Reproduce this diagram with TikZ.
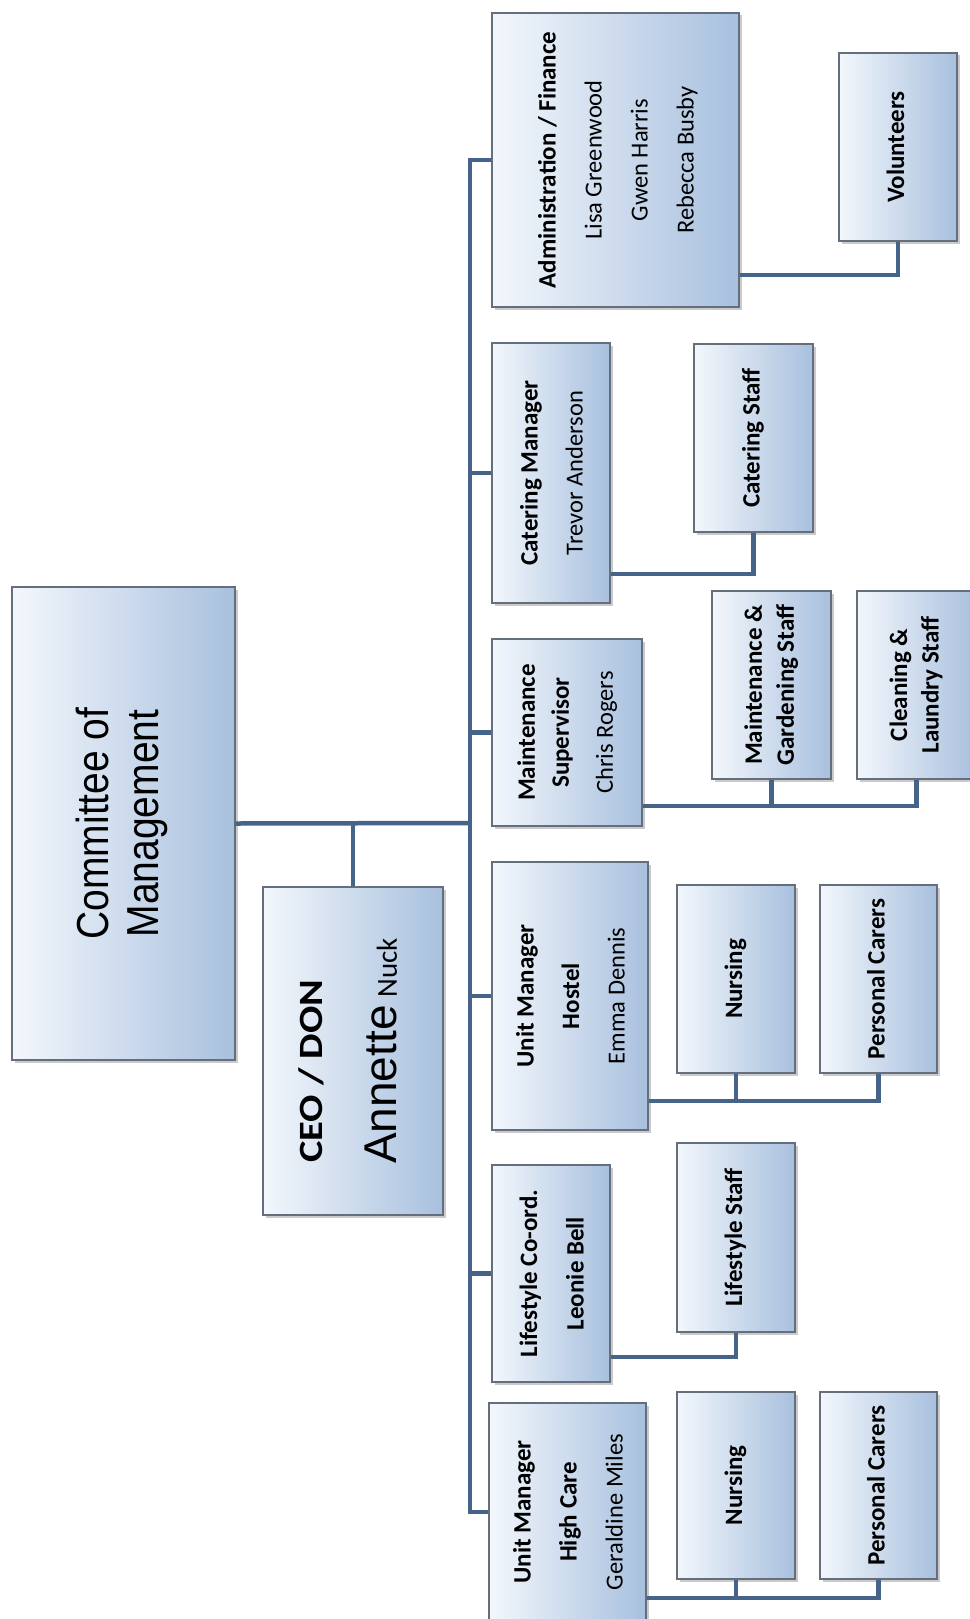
\documentclass[tikz,border=0pt]{standalone}
\usepackage{fontspec}
\setmainfont{Carlito}
\newfontfamily\arialf{Liberation Sans}
\usetikzlibrary{shadows}
\definecolor{lineblue}{RGB}{70,100,138}
\definecolor{boxL}{RGB}{243,247,252}
\definecolor{boxR}{RGB}{168,192,222}
\definecolor{boxborder}{RGB}{100,110,124}
\tikzset{
  orgbox/.style={draw=boxborder, line width=1.4pt, left color=boxL, right color=boxR,
    inner sep=0pt, align=center,
    drop shadow={shadow xshift=2.5pt, shadow yshift=-2.5pt, opacity=0.35, fill=black!60}},
  conn/.style={draw=lineblue, line width=4.5pt}
}
% name, x1, x2, y1, y2, text (image pixel coordinates)
\newcommand{\obox}[6]{%
  \node[orgbox, minimum width={#3pt-#2pt}, minimum height={#5pt-#4pt}]
    (#1) at ({(#2+#3)/2},{(#4+#5)/2}) {#6};}
\newcommand{\rtab}[2]{\rotatebox{90}{#1\begin{tabular}{@{}c@{}}#2\end{tabular}}}
\newcommand{\nm}{\mdseries\fontsize{24.5}{30}\selectfont}
\newcommand{\ttl}{\bfseries}
\begin{document}
\begin{tikzpicture}[x=1pt,y=-1pt]
\useasboundingbox (0,0) rectangle (969,1619);

% top level
\obox{com}{12}{235}{587}{1060}{\rotatebox{90}{\scalebox{1}[1.15]{\arialf\fontsize{39}{43}\selectfont\begin{tabular}{@{}c@{}}Committee of\\Management\end{tabular}}}}
\obox{ceo}{263}{443}{887}{1215}{\rtab{\fontsize{34}{74}\selectfont}{\scalebox{1.19}[1]{\bfseries CEO / DON}\hspace*{40pt}\\ {\arialf\fontsize{46}{74}\selectfont Annette} {\fontsize{29}{74}\selectfont Nuck}\\[16pt]}}

% managers
\obox{adm}{492}{739}{13}{307}{\rtab{\fontsize{25}{46}\selectfont}{\ttl Administration / Finance\\ \nm Lisa Greenwood\\ \nm Gwen Harris\\ \nm Rebecca Busby}}
\obox{cm}{492}{610}{343}{603}{\rtab{\fontsize{25}{45}\selectfont}{\ttl Catering Manager\\ \nm Trevor Anderson}}
\obox{ms}{492}{642}{639}{826}{\rtab{\fontsize{25}{34}\selectfont}{\ttl Maintenance\\ \ttl Supervisor\\[10pt] \nm Chris Rogers}}
\obox{umh}{492}{648}{862}{1130}{\rtab{\fontsize{25}{45.5}\selectfont}{\ttl Unit Manager\\ \ttl Hostel\\ \nm Emma Dennis}}
\obox{lc}{492}{610}{1165}{1382}{\rtab{\fontsize{25}{46.5}\selectfont}{\ttl Lifestyle Co-ord.\\ \ttl Leonie Bell}}
\obox{hc}{489}{646}{1403}{1621}{\rtab{\fontsize{25}{46}\selectfont}{\ttl Unit Manager\\ \ttl High Care\\ \nm Geraldine Miles}}

% staff
\obox{vol}{839}{957}{53}{241}{\rtab{\fontsize{25}{30}\selectfont}{\ttl Volunteers}}
\obox{cs}{694}{813}{344}{532}{\rtab{\fontsize{25}{30}\selectfont}{\ttl Catering Staff}}
\obox{mg}{712}{831}{591}{779}{\rtab{\fontsize{25}{32}\selectfont}{\ttl Maintenance \&\\ \ttl Gardening Staff}}
\obox{cl}{857}{976}{591}{779}{\rtab{\fontsize{25}{31.5}\selectfont}{\ttl Cleaning \&\\ \ttl Laundry Staff}}
\obox{n1}{677}{795}{885}{1073}{\rtab{\fontsize{25}{30}\selectfont}{\ttl Nursing}}
\obox{pc1}{820}{937}{885}{1073}{\rtab{\fontsize{25}{30}\selectfont}{\ttl Personal Carers}}
\obox{ls}{677}{795}{1143}{1332}{\rtab{\fontsize{25}{30}\selectfont}{\ttl Lifestyle Staff}}
\obox{n2}{677}{795}{1392}{1579}{\rtab{\fontsize{25}{30}\selectfont}{\ttl Nursing}}
\obox{pc2}{820}{937}{1392}{1579}{\rtab{\fontsize{25}{30}\selectfont}{\ttl Personal Carers}}

% connectors
\coordinate (bus) at (470,823);
\draw[conn] (com.east) -- (bus);
\draw[conn] (ceo.north) -- (ceo.north |- bus);
\draw[conn] (adm.west) -| (hc.west -| bus) -- (hc.west);
\draw[conn] (cm.west) -- (cm.west -| bus);
\draw[conn] (ms.west) -- (ms.west -| bus);
\draw[conn] (umh.west) -- (umh.west -| bus);
\draw[conn] (lc.west) -- (lc.west -| bus);

\draw[conn] (adm.east |- 0,275) -| (vol.south);
\draw[conn] (cm.east |- 0,574) -| (cs.south);
\draw[conn] (ms.east |- 0,806) -| (cl.south);
\draw[conn] (mg.south) -- (mg.south |- 0,806);
\draw[conn] (umh.east |- 0,1101) -| (pc1.south);
\draw[conn] (n1.south) -- (n1.south |- 0,1101);
\draw[conn] (lc.east |- 0,1357) -| (ls.south);
\draw[conn] (hc.east |- 0,1598) -| (pc2.south);
\draw[conn] (n2.south) -- (n2.south |- 0,1598);
\end{tikzpicture}
\end{document}
